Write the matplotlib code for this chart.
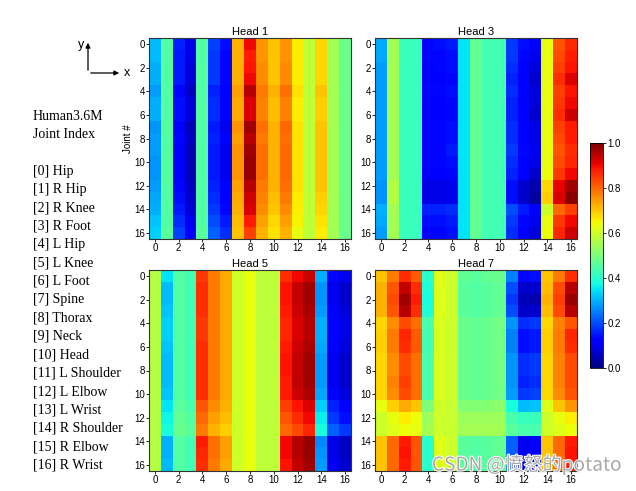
import numpy as np
import matplotlib
matplotlib.use("Agg")
import matplotlib.pyplot as plt
import matplotlib.patheffects as pe

plt.rcParams['font.family'] = ['Liberation Sans', 'DejaVu Sans']

# attention maps, rows = joint (0..16), cols = joint (0..16)
head1 = [
    [0.31,0.45,0.16,0.09,0.45,0.19,0.14,0.72,0.90,0.75,0.70,0.75,0.66,0.58,0.68,0.55,0.48],
    [0.31,0.45,0.15,0.09,0.45,0.18,0.13,0.72,0.88,0.75,0.70,0.75,0.66,0.58,0.68,0.55,0.48],
    [0.30,0.45,0.15,0.08,0.45,0.18,0.13,0.72,0.89,0.76,0.70,0.76,0.66,0.58,0.68,0.55,0.48],
    [0.30,0.45,0.15,0.08,0.45,0.18,0.13,0.72,0.90,0.76,0.70,0.76,0.66,0.58,0.68,0.55,0.48],
    [0.28,0.45,0.13,0.06,0.45,0.16,0.11,0.74,0.95,0.78,0.72,0.79,0.67,0.58,0.70,0.55,0.48],
    [0.30,0.45,0.14,0.08,0.45,0.17,0.12,0.73,0.92,0.77,0.71,0.77,0.66,0.58,0.69,0.55,0.48],
    [0.30,0.45,0.14,0.08,0.45,0.17,0.12,0.73,0.92,0.77,0.71,0.77,0.66,0.58,0.69,0.55,0.48],
    [0.27,0.45,0.12,0.05,0.45,0.15,0.10,0.75,0.97,0.79,0.72,0.80,0.67,0.58,0.70,0.55,0.48],
    [0.28,0.45,0.13,0.06,0.45,0.16,0.11,0.74,0.95,0.78,0.72,0.79,0.67,0.58,0.70,0.55,0.48],
    [0.28,0.45,0.12,0.05,0.45,0.15,0.10,0.75,0.97,0.79,0.72,0.80,0.67,0.58,0.70,0.55,0.48],
    [0.27,0.45,0.12,0.05,0.45,0.15,0.10,0.75,0.98,0.79,0.72,0.80,0.67,0.58,0.70,0.55,0.48],
    [0.27,0.45,0.12,0.05,0.45,0.15,0.10,0.75,0.98,0.79,0.72,0.80,0.67,0.58,0.70,0.55,0.48],
    [0.28,0.45,0.13,0.06,0.45,0.16,0.11,0.74,0.95,0.78,0.72,0.79,0.67,0.58,0.70,0.55,0.48],
    [0.29,0.45,0.14,0.07,0.45,0.17,0.12,0.73,0.93,0.77,0.71,0.78,0.66,0.58,0.69,0.55,0.48],
    [0.30,0.45,0.15,0.08,0.45,0.18,0.13,0.72,0.92,0.76,0.70,0.76,0.66,0.58,0.68,0.55,0.48],
    [0.32,0.45,0.17,0.10,0.45,0.20,0.15,0.71,0.88,0.74,0.68,0.74,0.65,0.58,0.67,0.55,0.48],
    [0.33,0.46,0.19,0.12,0.46,0.22,0.17,0.70,0.84,0.72,0.67,0.72,0.63,0.58,0.66,0.55,0.48],
]

head3 = [
    [0.29,0.55,0.42,0.42,0.13,0.14,0.15,0.35,0.47,0.43,0.43,0.18,0.14,0.11,0.63,0.82,0.87],
    [0.29,0.55,0.42,0.42,0.13,0.13,0.14,0.35,0.47,0.43,0.43,0.18,0.13,0.10,0.63,0.83,0.88],
    [0.28,0.55,0.42,0.42,0.12,0.13,0.14,0.35,0.47,0.43,0.43,0.17,0.12,0.08,0.63,0.84,0.89],
    [0.28,0.55,0.42,0.42,0.12,0.12,0.13,0.35,0.47,0.43,0.43,0.16,0.11,0.07,0.63,0.86,0.92],
    [0.28,0.55,0.42,0.42,0.13,0.13,0.14,0.35,0.47,0.43,0.43,0.17,0.12,0.08,0.63,0.84,0.89],
    [0.28,0.55,0.42,0.42,0.12,0.12,0.13,0.35,0.47,0.43,0.43,0.16,0.12,0.08,0.63,0.85,0.90],
    [0.28,0.55,0.42,0.42,0.12,0.11,0.13,0.35,0.47,0.43,0.43,0.16,0.11,0.07,0.63,0.86,0.93],
    [0.28,0.55,0.42,0.42,0.13,0.13,0.14,0.35,0.47,0.43,0.43,0.17,0.12,0.09,0.63,0.84,0.88],
    [0.28,0.55,0.42,0.42,0.13,0.13,0.14,0.35,0.47,0.43,0.43,0.17,0.12,0.09,0.63,0.83,0.88],
    [0.28,0.55,0.42,0.42,0.13,0.13,0.15,0.35,0.47,0.43,0.43,0.18,0.13,0.10,0.63,0.82,0.86],
    [0.28,0.55,0.42,0.42,0.13,0.13,0.14,0.35,0.47,0.43,0.43,0.17,0.12,0.09,0.63,0.83,0.87],
    [0.28,0.55,0.42,0.42,0.12,0.12,0.13,0.35,0.47,0.43,0.43,0.16,0.11,0.07,0.64,0.85,0.90],
    [0.27,0.57,0.42,0.42,0.09,0.09,0.10,0.35,0.47,0.43,0.43,0.14,0.07,0.04,0.68,0.91,0.97],
    [0.27,0.57,0.42,0.42,0.09,0.09,0.10,0.35,0.47,0.43,0.43,0.14,0.07,0.03,0.69,0.92,0.99],
    [0.30,0.55,0.42,0.42,0.16,0.16,0.17,0.35,0.47,0.43,0.43,0.20,0.15,0.12,0.60,0.80,0.84],
    [0.29,0.55,0.42,0.42,0.14,0.14,0.15,0.35,0.47,0.43,0.43,0.18,0.13,0.10,0.63,0.85,0.90],
    [0.28,0.55,0.42,0.42,0.13,0.13,0.14,0.35,0.47,0.43,0.43,0.17,0.12,0.08,0.64,0.87,0.93],
]

head5 = [
    [0.57,0.35,0.45,0.43,0.85,0.78,0.73,0.60,0.63,0.58,0.58,0.86,0.90,0.93,0.30,0.13,0.10],
    [0.57,0.31,0.45,0.43,0.86,0.78,0.73,0.60,0.63,0.58,0.58,0.89,0.94,0.97,0.27,0.10,0.07],
    [0.57,0.31,0.45,0.43,0.86,0.78,0.73,0.60,0.63,0.58,0.58,0.89,0.94,0.97,0.27,0.10,0.07],
    [0.57,0.32,0.45,0.43,0.86,0.78,0.73,0.60,0.63,0.58,0.58,0.88,0.93,0.96,0.28,0.11,0.08],
    [0.57,0.33,0.45,0.43,0.85,0.78,0.73,0.60,0.63,0.58,0.58,0.87,0.92,0.95,0.30,0.12,0.09],
    [0.57,0.33,0.45,0.43,0.85,0.78,0.73,0.60,0.63,0.58,0.58,0.87,0.92,0.95,0.30,0.12,0.09],
    [0.57,0.32,0.45,0.43,0.86,0.78,0.73,0.60,0.63,0.58,0.58,0.88,0.93,0.96,0.29,0.11,0.08],
    [0.57,0.31,0.45,0.43,0.86,0.78,0.73,0.60,0.63,0.58,0.58,0.89,0.94,0.97,0.28,0.10,0.07],
    [0.57,0.31,0.45,0.43,0.86,0.78,0.73,0.60,0.63,0.58,0.58,0.89,0.94,0.97,0.28,0.10,0.07],
    [0.57,0.31,0.45,0.43,0.86,0.78,0.73,0.60,0.63,0.58,0.58,0.88,0.94,0.97,0.28,0.10,0.07],
    [0.57,0.32,0.45,0.43,0.86,0.78,0.73,0.60,0.63,0.58,0.58,0.88,0.93,0.96,0.29,0.11,0.08],
    [0.57,0.35,0.46,0.44,0.82,0.76,0.72,0.60,0.63,0.58,0.58,0.84,0.89,0.92,0.33,0.16,0.12],
    [0.57,0.37,0.47,0.45,0.80,0.74,0.71,0.60,0.63,0.58,0.58,0.82,0.86,0.90,0.36,0.18,0.14],
    [0.57,0.38,0.48,0.46,0.78,0.72,0.69,0.60,0.63,0.58,0.58,0.80,0.83,0.87,0.38,0.22,0.18],
    [0.57,0.30,0.45,0.43,0.88,0.79,0.74,0.60,0.63,0.58,0.58,0.90,0.95,0.98,0.26,0.09,0.06],
    [0.57,0.30,0.45,0.43,0.87,0.79,0.74,0.60,0.63,0.58,0.58,0.90,0.95,0.98,0.27,0.09,0.06],
    [0.57,0.31,0.45,0.43,0.86,0.78,0.73,0.60,0.63,0.58,0.58,0.89,0.94,0.97,0.28,0.10,0.07],
]

head7 = [
    [0.70,0.78,0.86,0.81,0.40,0.62,0.60,0.47,0.46,0.47,0.48,0.25,0.13,0.14,0.70,0.78,0.86],
    [0.72,0.82,0.94,0.86,0.39,0.62,0.60,0.46,0.45,0.46,0.47,0.20,0.07,0.07,0.71,0.83,0.95],
    [0.72,0.83,0.97,0.88,0.38,0.62,0.60,0.46,0.45,0.46,0.47,0.18,0.05,0.04,0.72,0.84,0.98],
    [0.72,0.82,0.95,0.86,0.39,0.62,0.60,0.46,0.45,0.46,0.47,0.20,0.07,0.07,0.71,0.83,0.95],
    [0.68,0.76,0.83,0.79,0.44,0.61,0.60,0.48,0.47,0.48,0.49,0.27,0.17,0.18,0.68,0.77,0.82],
    [0.69,0.78,0.87,0.81,0.43,0.61,0.60,0.48,0.47,0.48,0.49,0.25,0.14,0.15,0.69,0.78,0.87],
    [0.69,0.78,0.86,0.81,0.43,0.61,0.60,0.48,0.47,0.48,0.49,0.25,0.14,0.15,0.69,0.78,0.86],
    [0.68,0.76,0.83,0.79,0.44,0.61,0.60,0.48,0.47,0.48,0.49,0.27,0.17,0.18,0.68,0.77,0.83],
    [0.68,0.76,0.83,0.79,0.44,0.61,0.60,0.48,0.47,0.48,0.49,0.27,0.17,0.18,0.68,0.77,0.83],
    [0.68,0.77,0.84,0.79,0.44,0.61,0.60,0.48,0.47,0.48,0.49,0.27,0.16,0.17,0.68,0.77,0.83],
    [0.68,0.76,0.83,0.79,0.44,0.61,0.60,0.48,0.47,0.48,0.49,0.28,0.18,0.19,0.68,0.76,0.82],
    [0.63,0.69,0.73,0.70,0.50,0.60,0.59,0.51,0.51,0.51,0.52,0.38,0.31,0.32,0.62,0.70,0.75],
    [0.60,0.63,0.66,0.64,0.54,0.60,0.59,0.54,0.54,0.54,0.54,0.44,0.42,0.42,0.60,0.63,0.66],
    [0.60,0.62,0.64,0.63,0.55,0.60,0.59,0.55,0.55,0.55,0.55,0.46,0.44,0.44,0.60,0.62,0.64],
    [0.70,0.80,0.88,0.82,0.40,0.62,0.60,0.46,0.45,0.46,0.47,0.22,0.10,0.11,0.70,0.80,0.88],
    [0.70,0.80,0.89,0.82,0.40,0.62,0.60,0.46,0.45,0.46,0.47,0.22,0.10,0.11,0.70,0.80,0.89],
    [0.70,0.80,0.88,0.82,0.40,0.62,0.60,0.46,0.45,0.46,0.47,0.22,0.10,0.11,0.70,0.80,0.88],
]

titles = ["Head 1", "Head 3", "Head 5", "Head 7"]
joints = ["Hip", "R Hip", "R Knee", "R Foot", "L Hip", "L Knee", "L Foot", "Spine",
          "Thorax", "Neck", "Head", "L Shoulder", "L Elbow", "L Wrist",
          "R Shoulder", "R Elbow", "R Wrist"]
ticks = list(range(0, 17, 2))

W, H = 636, 491
fig = plt.figure(figsize=(W / 100, H / 100), dpi=100)

def px(x0, y0, x1, y1):
    # pixel box -> figure fraction rect
    return [x0 / W, 1 - y1 / H, (x1 - x0) / W, (y1 - y0) / H]

boxes = [px(149, 38, 351, 239), px(375, 38, 577, 239),
         px(149, 270, 351, 471), px(375, 270, 577, 471)]

for data, title, box in zip([head1, head3, head5, head7], titles, boxes):
    ax = fig.add_axes(box)
    im = ax.imshow(np.array(data), cmap="jet", vmin=0, vmax=1,
                   aspect="auto", interpolation="nearest")
    ax.set_title(title, fontsize=8, pad=2)
    ax.set_xticks(ticks)
    ax.set_yticks(ticks)
    ax.tick_params(labelsize=7, length=2, pad=1, width=0.6)
    for s in ax.spines.values():
        s.set_linewidth(0.8)
        s.set_color("#333333")
    if title == "Head 1":
        ax.set_ylabel("Joint #", fontsize=7, labelpad=1)

cax = fig.add_axes(px(590, 143, 603, 368))
cb = fig.colorbar(im, cax=cax, ticks=[0, 0.2, 0.4, 0.6, 0.8, 1.0])
cb.ax.set_yticklabels(["0.0", "0.2", "0.4", "0.6", "0.8", "1.0"])
cb.ax.tick_params(labelsize=7, length=2, pad=1, width=0.6)
cb.outline.set_linewidth(0.6)

# coordinate icon
ox, oy = 88 / W, 1 - 73 / H
fig.add_artist(matplotlib.patches.FancyArrowPatch((ox, oy), (ox, 1 - 40 / H),
               transform=fig.transFigure, arrowstyle="-|>", mutation_scale=7, lw=0.9, color="black"))
fig.add_artist(matplotlib.patches.FancyArrowPatch((ox, oy), (122 / W, oy),
               transform=fig.transFigure, arrowstyle="-|>", mutation_scale=7, lw=0.9, color="black"))
fig.text(81 / W, 1 - 45 / H, "y", fontsize=9, ha="center", va="center")
fig.text(127 / W, 1 - 73 / H, "x", fontsize=9, ha="center", va="center")

# joint index legend
serif = ["Liberation Serif", "DejaVu Serif"]
fig.text(33 / W, 1 - 116 / H, "Human3.6M", fontsize=10, family=serif, va="center")
fig.text(33 / W, 1 - 134 / H, "Joint Index", fontsize=10, family=serif, va="center")
for i, name in enumerate(joints):
    y = 171 + i * 18.375
    fig.text(33 / W, 1 - y / H, f"[{i}] {name}", fontsize=10, family=serif, va="center")

wm = fig.text(432 / W, 1 - 465 / H, "CSDN @愤怒的potato", fontsize=13.7, color="#a8a8a8",
              va="center", family=["Noto Sans CJK SC", "DejaVu Sans"])
wm.set_path_effects([pe.withStroke(linewidth=1.5, foreground="white")])

fig.savefig("out.png", dpi=100)
